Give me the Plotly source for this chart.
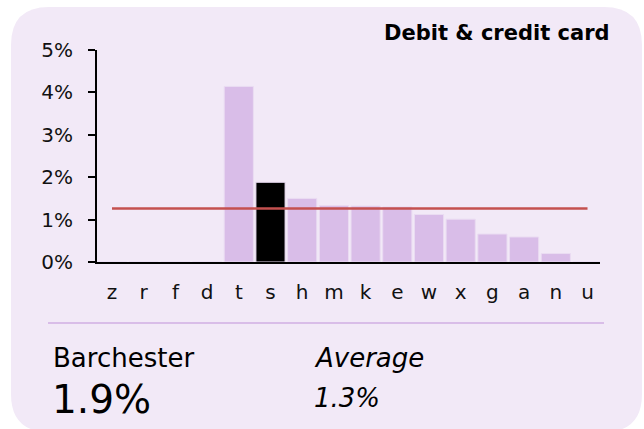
import plotly.graph_objects as go

# Data
categories = ["z", "r", "f", "d", "t", "s", "h", "m", "k", "e", "w", "x", "g", "a", "n", "u"]
values = [0, 0, 0, 0, 4.14, 1.88, 1.50, 1.33, 1.32, 1.30, 1.12, 1.01, 0.66, 0.59, 0.20, 0]
highlight = "s"
average = 1.26
y_ticks = [0, 1, 2, 3, 4, 5]
y_tick_labels = ["0%", "1%", "2%", "3%", "4%", "5%"]
title_text = "Debit & credit card"
place_name = "Barchester"
average_name = "Average"

W, H = 644, 429
L, R, T, B = 97, 600, 50, 262  # plot area in pixels

def px(x):
    return (x - L) / (R - L)

def py(y):
    return (B - y) / (B - T)

FONT = "DejaVu Sans"
BAR = "#d9bde8"
CARD = "#f2e9f7"

colors = ["#000000" if c == highlight else BAR for c in categories]

fig = go.Figure()
fig.add_trace(go.Bar(
    x=categories, y=values,
    marker=dict(color=colors, line=dict(color="#eadcf2", width=1)),
    hoverinfo="skip",
))
fig.add_trace(go.Scatter(
    x=[categories[0], categories[-1]], y=[average, average],
    mode="lines", line=dict(color="#c4504f", width=2.5),
    hoverinfo="skip",
))

# Rounded card behind the chart
x0, x1, y0, y1, r = 11, 642, 7, 432, 38
pts = [
    ("M", (x0 + r, y0)), ("L", (x1 - r, y0)), ("Q", (x1, y0), (x1, y0 + r)),
    ("L", (x1, y1 - r)), ("Q", (x1, y1), (x1 - r, y1)), ("L", (x0 + r, y1)),
    ("Q", (x0, y1), (x0, y1 - r)), ("L", (x0, y0 + r)), ("Q", (x0, y0), (x0 + r, y0)),
]
path = ""
for cmd, *ps in pts:
    path += cmd + " " + " ".join(f"{px(a):.5f},{py(b):.5f}" for a, b in ps) + " "
path += "Z"

shapes = [
    dict(type="path", path=path, xref="paper", yref="paper",
         fillcolor=CARD, line=dict(width=0), layer="below"),
    dict(type="line", xref="paper", yref="paper",
         x0=px(48), x1=px(604), y0=py(323), y1=py(323),
         line=dict(color=BAR, width=2)),
]

annotations = [
    dict(text=f"<b>{title_text}</b>", x=px(612), y=py(32.5), xanchor="right", yanchor="middle",
         font=dict(family=FONT, size=21, color="#000")),
    dict(text=place_name, x=px(51), y=py(358), xanchor="left", yanchor="middle",
         font=dict(family=FONT, size=26, color="#000")),
    dict(text=f"{values[categories.index(highlight)]:.1f}%", x=px(50), y=py(399),
         xanchor="left", yanchor="middle", font=dict(family=FONT, size=39, color="#000")),
    dict(text=f"<i>{average_name}</i>", x=px(312), y=py(358), xanchor="left", yanchor="middle",
         font=dict(family=FONT, size=26, color="#000")),
    dict(text=f"<i>{average:.1f}%</i>", x=px(312), y=py(398), xanchor="left", yanchor="middle",
         font=dict(family=FONT, size=26, color="#000")),
]
for a in annotations:
    a.update(xref="paper", yref="paper", showarrow=False)

fig.update_layout(
    width=W, height=H,
    margin=dict(l=L, r=W - R, t=T, b=H - B, pad=0),
    paper_bgcolor="white", plot_bgcolor="rgba(0,0,0,0)",
    showlegend=False, bargap=0.08,
    shapes=shapes, annotations=annotations,
    font=dict(family=FONT, color="#111"),
)
fig.update_xaxes(
    type="category", range=[-0.473, 15.394], showgrid=False, zeroline=False,
    showline=True, linecolor="#000", linewidth=2, ticks="",
    tickfont=dict(family=FONT, size=20, color="#111"), ticklabelstandoff=11,
)
fig.update_yaxes(
    range=[0, 5], tickvals=y_ticks, ticktext=y_tick_labels, showgrid=False, zeroline=False,
    showline=True, linecolor="#000", linewidth=2, ticks="outside", ticklen=7,
    tickwidth=2, tickcolor="#000",
    tickfont=dict(family=FONT, size=20, color="#111"), ticklabelstandoff=11,
)

fig.write_html("out.html")
